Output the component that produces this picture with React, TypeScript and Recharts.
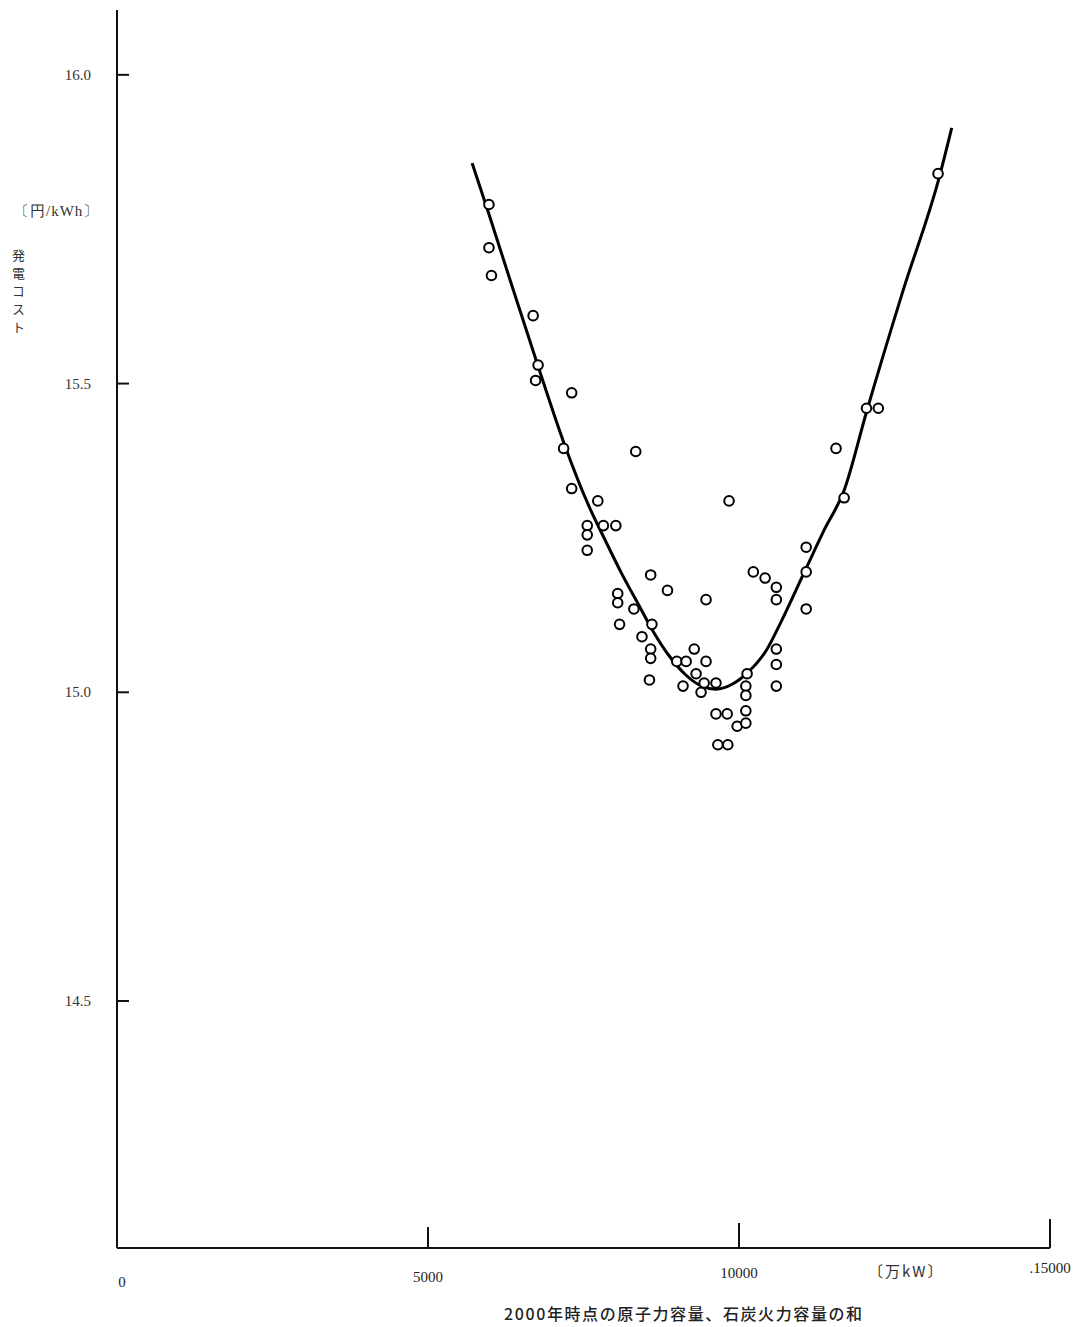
import { ComposedChart, Line, Scatter, XAxis, YAxis } from 'recharts'

// 2000年時点の原子力容量、石炭火力容量の和 (万kW) vs 発電コスト (円/kWh)
const capacity = [
  5980, 5980, 6020, 6690, 6770, 6730, 7310, 7180, 7310, 8340,
  7730, 7560, 7560, 7820, 8020, 7560, 9840, 8580, 8050, 8050,
  8850, 9470, 8310, 8080, 8600, 8440, 8580, 8580, 8560, 9000,
  9150, 9280, 9100, 9310, 9390, 9440, 9470, 9630, 9630, 9810,
  9660, 9820, 9970, 10110, 10130, 10110, 10110, 10110, 10230, 10420,
  10600, 10600, 11080, 11080, 11080, 10600, 10600, 10600, 11560, 11690,
  12050, 12240, 13200,
]
const cost = [
  15.79, 15.72, 15.675, 15.61, 15.53, 15.505, 15.485, 15.395, 15.33, 15.39,
  15.31, 15.27, 15.255, 15.27, 15.27, 15.23, 15.31, 15.19, 15.16, 15.145,
  15.165, 15.15, 15.135, 15.11, 15.11, 15.09, 15.07, 15.055, 15.02, 15.05,
  15.05, 15.07, 15.01, 15.03, 15.0, 15.015, 15.05, 15.015, 14.965, 14.965,
  14.915, 14.915, 14.945, 14.95, 15.03, 15.01, 14.995, 14.97, 15.195, 15.185,
  15.17, 15.15, 15.235, 15.195, 15.135, 15.07, 15.045, 15.01, 15.395, 15.315,
  15.46, 15.46, 15.84,
]

// fitted curve
const fitX = [
  5710, 6000, 6290, 6770, 7210, 7580, 7855, 8110, 8390, 8630,
  8870, 9145, 9400, 9630, 9890, 10130, 10440, 10690, 11080, 11370,
  11690, 12050, 12630, 13230, 13420,
]
const fitY = [
  15.857, 15.768, 15.677, 15.528, 15.397, 15.303, 15.245, 15.193, 15.141, 15.097,
  15.06, 15.028, 15.01, 15.005, 15.013, 15.031, 15.068, 15.117, 15.201, 15.263,
  15.327, 15.454, 15.648, 15.838, 15.914,
]

const xTicks = [0, 5000, 10000, 15000]
const xTickLabels = ['0', '5000', '10000', '.15000']
const yTicks = [14.5, 15.0, 15.5, 16.0]

const points = capacity.map((x, i) => ({ x, y: cost[i] }))
const curve = fitX.map((x, i) => ({ x, y: fitY[i] }))

const serif = '"Liberation Serif", "DejaVu Serif", serif'
const cjk = '"Noto Sans CJK JP", sans-serif'

const YTick = (props: any) => {
  const { x, y, payload } = props
  return (
    <g>
      <line x1={x} x2={x + 12} y1={y} y2={y} stroke="#111" strokeWidth={2} />
      <text x={x - 26} y={y + 5} textAnchor="end" fontFamily={serif} fontSize={15} fill="#333">
        {payload.value.toFixed(1)}
      </text>
    </g>
  )
}

const XTick = (props: any) => {
  const { x, y, payload, index } = props
  const len = payload.value === 0 ? 0 : 17 + (payload.value / 15000) * 12
  const drop = 39 - (payload.value / 15000) * 14
  return (
    <g>
      {len > 0 && <line x1={x} x2={x} y1={y} y2={y - len} stroke="#111" strokeWidth={2} />}
      <text x={payload.value === 0 ? x + 5 : x} y={y + drop} textAnchor="middle" fontFamily={serif} fontSize={15} fill="#222">
        {xTickLabels[index]}
      </text>
    </g>
  )
}

const Ring = (props: any) => {
  const { cx, cy } = props
  return <circle cx={cx} cy={cy} r={4.8} fill="#fff" stroke="#000" strokeWidth={2} />
}

export default function App() {
  return (
    <div style={{ position: 'absolute', left: 0, top: 0, width: 1081, height: 1327, background: '#fff' }}>
      <ComposedChart width={1081} height={1327} margin={{ top: 10, right: 31, bottom: 0, left: 0 }}>
        <XAxis
          type="number"
          dataKey="x"
          domain={[0, 15000]}
          ticks={xTicks}
          tickSize={0}
          tickMargin={0}
          tickLine={false}
          height={79}
          axisLine={{ stroke: '#111', strokeWidth: 2 }}
          tick={<XTick />}
          interval={0}
        />
        <YAxis
          type="number"
          dataKey="y"
          domain={[14.1, 16.105]}
          ticks={yTicks}
          tickSize={0}
          tickMargin={0}
          tickLine={false}
          width={117}
          axisLine={{ stroke: '#111', strokeWidth: 2 }}
          tick={<YTick />}
          interval={0}
        />
        <Line
          data={curve}
          dataKey="y"
          type="monotone"
          stroke="#000"
          strokeWidth={3}
          dot={false}
          isAnimationActive={false}
        />
        <Scatter data={points} dataKey="y" shape={<Ring />} isAnimationActive={false} />
      </ComposedChart>
      <div style={{ position: 'absolute', left: 14, top: 202, fontFamily: serif, fontSize: 15, letterSpacing: 1, color: '#333' }}>
        〔円/kWh〕
      </div>
      <div style={{ position: 'absolute', left: 9, top: 249, fontFamily: cjk, fontSize: 13, color: '#333', writingMode: 'vertical-rl', letterSpacing: 5 }}>
        発電コスト
      </div>
      <div style={{ position: 'absolute', left: 868, top: 1260, fontFamily: cjk, fontSize: 15, letterSpacing: 2, color: '#333' }}>
        〔万kW〕
      </div>
      <div style={{ position: 'absolute', left: 504, top: 1301, fontFamily: cjk, fontSize: 16, fontWeight: 500, letterSpacing: 1.6, color: '#222' }}>
        2000年時点の原子力容量、石炭火力容量の和
      </div>
    </div>
  )
}
